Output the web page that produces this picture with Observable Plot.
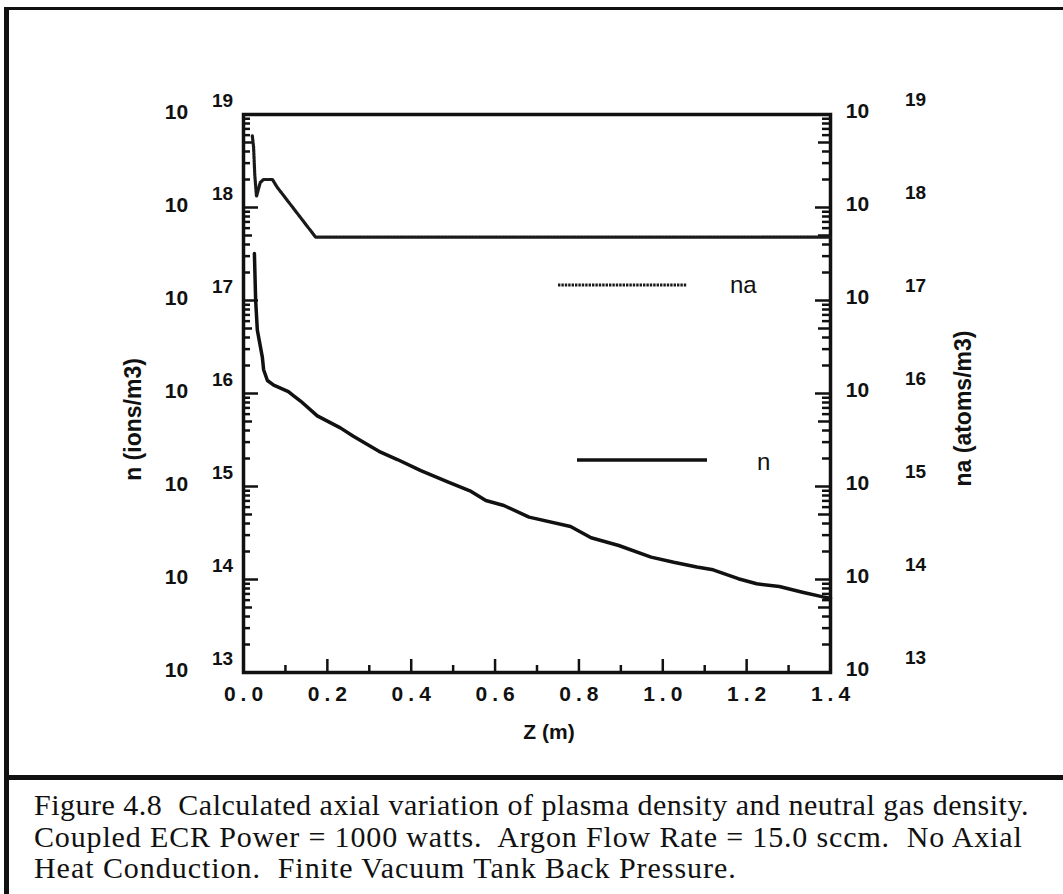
<!DOCTYPE html>
<html><head><meta charset="utf-8">
<script src="https://cdn.jsdelivr.net/npm/d3@7"></script>
<script src="https://cdn.jsdelivr.net/npm/@observablehq/plot@0.6"></script>
<style>
body{margin:0;background:#fff;}
#page{position:relative;width:1063px;height:894px;overflow:hidden;background:#fff;}
.bar{position:absolute;background:#111;}
#caption{position:absolute;left:34px;top:789px;font-family:"Liberation Serif","Times New Roman",serif;font-size:30px;line-height:31.5px;white-space:pre;color:#111;}
#caption div:nth-child(1){letter-spacing:0.5px;}
#caption div:nth-child(2){letter-spacing:0.85px;}
#caption div:nth-child(3){letter-spacing:0.95px;}
#chart{position:absolute;left:0;top:0;}
#legend{position:absolute;left:0;top:0;}
</style></head><body>
<div id="page">
<div id="chart"></div>
<svg id="legend" width="1063" height="777"></svg>
<div class="bar" style="left:4px;top:7px;width:1059px;height:3px"></div>
<div class="bar" style="left:4px;top:7px;width:5px;height:887px"></div>
<div class="bar" style="left:4px;top:775px;width:1059px;height:5px"></div>
<div id="caption"></div>
</div>
<script>
// ---- data ----
const zN = [0.026, 0.029, 0.033, 0.045, 0.048, 0.057, 0.072, 0.107, 0.119, 0.136, 0.176, 0.231, 0.262, 0.327, 0.367, 0.423, 0.487, 0.540, 0.578, 0.621, 0.681, 0.780, 0.829, 0.895, 0.972, 1.026, 1.081, 1.120, 1.180, 1.224, 1.278, 1.333, 1.382, 1.400];
const nVals = [3.2e17, 1.0e17, 4.8e16, 2.45e16, 1.8e16, 1.38e16, 1.23e16, 1.05e16, 9.5e15, 8.3e15, 5.75e15, 4.27e15, 3.47e15, 2.34e15, 1.95e15, 1.48e15, 1.12e15, 9.0e14, 7.06e14, 6.25e14, 4.68e14, 3.72e14, 2.81e14, 2.32e14, 1.74e14, 1.53e14, 1.36e14, 1.27e14, 1.02e14, 9.0e13, 8.4e13, 7.3e13, 6.5e13, 6.3e13];
const zNa = [0.021, 0.024, 0.027, 0.031, 0.036, 0.040, 0.048, 0.069, 0.080, 0.172, 1.400];
const naVals = [5.9e18, 4.5e18, 2.2e18, 1.32e18, 1.6e18, 1.86e18, 2.0e18, 2.0e18, 1.66e18, 4.8e17, 4.8e17];
const decades = [13, 14, 15, 16, 17, 18, 19];
const xTickVals = [0.0, 0.2, 0.4, 0.6, 0.8, 1.0, 1.2, 1.4];
const xMinorVals = [0.1, 0.3, 0.5, 0.7, 0.9, 1.1, 1.3];
const legendLabels = ["na", "n"];
const yLabelLeft = "n (ions/m3)";
const yLabelRight = "na (atoms/m3)";
const xLabel = "Z (m)";
const captionLines = [
  "Figure 4.8  Calculated axial variation of plasma density and neutral gas density.",
  "Coupled ECR Power = 1000 watts.  Argon Flow Rate = 15.0 sccm.  No Axial",
  "Heat Conduction.  Finite Vacuum Tank Back Pressure."
];

const nData = zN.map((z, i) => ({z, v: nVals[i]}));
const naData = zNa.map((z, i) => ({z, v: naVals[i]}));
const majorY = decades.map(d => Math.pow(10, d));
const minorY = [], midY = [];
for (const d of decades.slice(0, -1)) for (let k = 2; k <= 9; k++) (k === 5 ? midY : minorY).push(k * Math.pow(10, d));

const W = 1063, H = 777, ML = 243, MR = 233, MT = 114, MB = 105;
const PW = W - ML - MR, PH = H - MT - MB;
const font = "Liberation Sans, Arial, Helvetica, sans-serif";
const ink = "#111";
const naStyle = {stroke: "#1a1a1a", strokeWidth: 3.2, strokeDasharray: "2.4 1"};

const chart = Plot.plot({
  width: W, height: H,
  marginLeft: ML, marginRight: MR, marginTop: MT, marginBottom: MB,
  style: {fontFamily: font, background: "transparent", color: ink, overflow: "visible"},
  x: {domain: [0, 1.4], axis: null},
  y: {type: "log", domain: [1e13, 1e19], axis: null},
  marks: [
    // left axis ticks (inward)
    Plot.tickY(majorY, {y: d => d, insetRight: PW - 15, strokeWidth: 2.5, stroke: ink}),
    Plot.tickY(midY, {y: d => d, insetRight: PW - 9, strokeWidth: 2.5, stroke: ink}),
    Plot.tickY(minorY, {y: d => d, insetRight: PW - 7, strokeWidth: 2.5, stroke: ink}),
    // right axis ticks (inward)
    Plot.tickY(majorY, {y: d => d, insetLeft: PW - 15, strokeWidth: 2.5, stroke: ink}),
    Plot.tickY(midY, {y: d => d, insetLeft: PW - 12, strokeWidth: 2.5, stroke: ink}),
    Plot.tickY(minorY, {y: d => d, insetLeft: PW - 8, strokeWidth: 2.5, stroke: ink}),
    // bottom ticks (inward)
    Plot.tickX(xTickVals, {x: d => d, insetTop: PH - 13, strokeWidth: 2.5, stroke: ink}),
    Plot.tickX(xMinorVals, {x: d => d, insetTop: PH - 7, strokeWidth: 2.5, stroke: ink}),
    Plot.frame({stroke: ink, strokeWidth: 3.5}),
    // data lines
    Plot.line(naData, {x: "z", y: "v", ...naStyle}),
    Plot.line(nData, {x: "z", y: "v", stroke: ink, strokeWidth: 3.5, strokeLinejoin: "round"}),
    // y tick labels (left)
    Plot.text(decades, {y: d => Math.pow(10, d), text: () => "10", frameAnchor: "left", textAnchor: "middle", dx: -67, dy: -2, fontSize: 21, fontWeight: "bold", fill: ink}),
    Plot.text(decades, {y: d => Math.pow(10, d), text: d => String(d), frameAnchor: "left", textAnchor: "middle", dx: -21, dy: -14, fontSize: 19, fontWeight: "bold", fill: ink}),
    // y tick labels (right)
    Plot.text(decades, {y: d => Math.pow(10, d), text: () => "10", frameAnchor: "right", textAnchor: "middle", dx: 27, dy: -3, fontSize: 21, fontWeight: "bold", fill: ink}),
    Plot.text(decades, {y: d => Math.pow(10, d), text: d => String(d), frameAnchor: "right", textAnchor: "middle", dx: 85, dy: -15, fontSize: 19, fontWeight: "bold", fill: ink}),
    // x tick labels
    Plot.text(xTickVals, {x: d => d, text: d => d.toFixed(1), frameAnchor: "bottom", textAnchor: "middle", dx: 2.5, dy: 28, fontSize: 21, fontWeight: "bold", fill: ink}),
    // axis titles
    Plot.text([xLabel], {text: d => d, frameAnchor: "bottom", textAnchor: "middle", dx: 12, dy: 66, fontSize: 21, fontWeight: "bold", fill: ink}),
    Plot.text([yLabelLeft], {text: d => d, frameAnchor: "left", textAnchor: "middle", rotate: -90, dx: -110, dy: 26, fontSize: 23, fontWeight: "bold", fill: ink}),
    Plot.text([yLabelRight], {text: d => d, frameAnchor: "right", textAnchor: "middle", rotate: -90, dx: 133, dy: 15, fontSize: 23, fontWeight: "bold", fill: ink})
  ]
});
d3.select(chart).selectAll("text").filter(function() { return /^\d\.\d$/.test(this.textContent); }).attr("letter-spacing", 5);
document.getElementById("chart").appendChild(chart);

// legend (inside the plot area)
const lg = d3.select("#legend");
const legendItems = [
  {label: legendLabels[0], x1: 558, x2: 687, y: 285, tx: 730, ty: 293, dashed: true},
  {label: legendLabels[1], x1: 577, x2: 707, y: 460, tx: 757, ty: 470, dashed: false}
];
for (const it of legendItems) {
  const ln = lg.append("line").attr("x1", it.x1).attr("x2", it.x2).attr("y1", it.y).attr("y2", it.y).attr("stroke", ink);
  if (it.dashed) ln.attr("stroke", naStyle.stroke).attr("stroke-width", naStyle.strokeWidth).attr("stroke-dasharray", naStyle.strokeDasharray);
  else ln.attr("stroke-width", 3.5);
  lg.append("text").attr("x", it.tx).attr("y", it.ty).attr("font-family", font).attr("font-size", 24).attr("fill", ink).text(it.label);
}

const cap = d3.select("#caption");
for (const line of captionLines) cap.append("div").text(line);
</script>
</body></html>
